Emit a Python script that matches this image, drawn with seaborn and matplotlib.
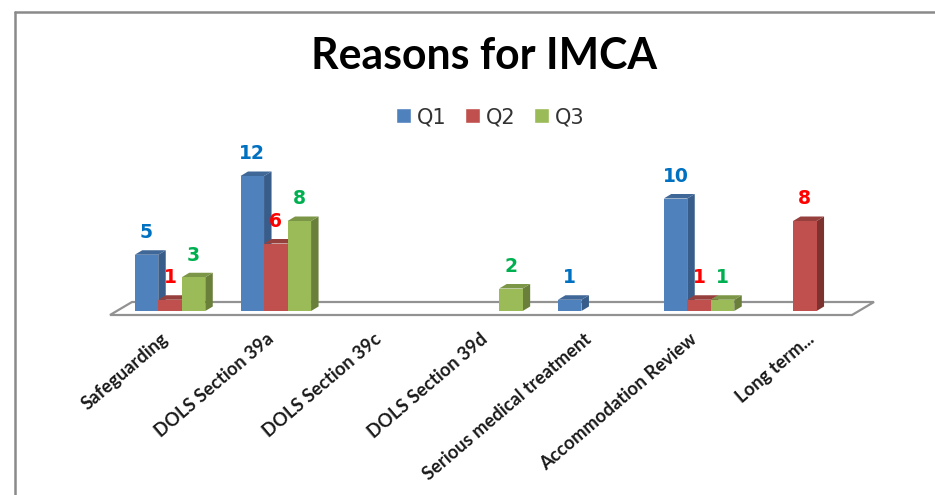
import matplotlib
matplotlib.use("Agg")
import matplotlib.pyplot as plt
from matplotlib.lines import Line2D
from matplotlib.patches import Polygon
from matplotlib.transforms import ScaledTranslation
import pandas as pd
import seaborn as sns

categories = ["Safeguarding", "DOLS Section 39a", "DOLS Section 39c", "DOLS Section 39d",
              "Serious medical treatment", "Accommodation Review", "Long term..."]
q1 = [5, 12, 0, 0, 1, 10, 0]
q2 = [1, 6, 0, 0, 0, 1, 8]
q3 = [3, 8, 0, 2, 0, 1, 0]
quarters = ["Q1", "Q2", "Q3"]

W, H = 935, 495
FACE = ["#4F81BD", "#C0504D", "#9BBB59"]
SIDE = ["#385D8A", "#7D3230", "#6A7F3A"]
TOP = ["#3F6797", "#96403D", "#7C9647"]
LABEL = ["#0070C0", "#FF0000", "#00B050"]

# Pixel layout of the plotting box
LEFT, RIGHT, BASE, CEIL = 110, 852, 311, 140
CAT_PX, UNIT_PX = 105.8, 11.25
DEPTH_X, DEPTH_Y = 7.5 / CAT_PX, 4.5 / UNIT_PX

sns.set_theme(style="white")
plt.rcParams["font.family"] = ["Lato", "DejaVu Sans"]

df = pd.DataFrame({
    "reason": categories * 3,
    "quarter": [q for q in quarters for _ in categories],
    "count": q1 + q2 + q3,
})

fig = plt.figure(figsize=(W / 100, H / 100), dpi=100, facecolor="white")
ax = fig.add_axes([LEFT / W, 1 - BASE / H, (RIGHT - LEFT) / W, (BASE - CEIL) / H])
sns.barplot(data=df, x="reason", y="count", hue="quarter", palette=FACE, hue_order=quarters,
            width=2 / 3, gap=0, saturation=1, errorbar=None, ax=ax, legend=True)
ax.set_xlim((LEFT - 170) / CAT_PX, (RIGHT - 170) / CAT_PX)
ax.set_ylim(0, (BASE - CEIL) / UNIT_PX)

# Floor of the pseudo-3D plot area
y_front, y_back = -4 / UNIT_PX, 9 / UNIT_PX
x0, x1 = ax.get_xlim()
shift = 22 / CAT_PX
ax.add_patch(Polygon([(x0, y_front), (x1, y_front), (x1 + shift, y_back), (x0 + shift, y_back)],
                     closed=True, facecolor="white", edgecolor="#929292", lw=1.6,
                     zorder=0.5, clip_on=False))

# Extrude each bar with a shaded side and top, then print its value above it
for k, container in enumerate(ax.containers):
    for bar, value in zip(container.patches, df.loc[df.quarter == quarters[k], "count"]):
        if value == 0:
            bar.set_visible(False)
            continue
        x, w, h = bar.get_x(), bar.get_width(), bar.get_height()
        z = 2 + k
        bar.set_zorder(z + 0.2)
        bar.set_linewidth(0)
        ax.add_patch(Polygon([(x + w, 0), (x + w + DEPTH_X, DEPTH_Y),
                              (x + w + DEPTH_X, h + DEPTH_Y), (x + w, h)],
                             closed=True, facecolor=SIDE[k], lw=0, zorder=z, clip_on=False))
        ax.add_patch(Polygon([(x, h), (x + w, h), (x + w + DEPTH_X, h + DEPTH_Y), (x + DEPTH_X, h + DEPTH_Y)],
                             closed=True, facecolor=TOP[k], lw=0, zorder=z, clip_on=False))
        ax.annotate(str(value), (x + w / 2, h), xytext=(0, 16), textcoords="offset points",
                    ha="center", va="center", color=LABEL[k], fontsize=13.5, fontweight="bold",
                    family="DejaVu Sans", zorder=10, annotation_clip=False)

for side in ax.spines.values():
    side.set_visible(False)
ax.set_xlabel("")
ax.set_ylabel("")
ax.set_yticks([])
ax.tick_params(axis="x", length=0, pad=14)
ax.set_xticks(range(len(categories)))
ax.set_xticklabels(categories, rotation=40.5, ha="right", rotation_mode="anchor",
                   fontsize=13.2, fontweight="bold", color="#1A1A1A")
# Rotated labels end just left of their tick; the truncated last one sits a little further right
nudges_px = [-10, -10, -8, -8, -10, -10, 2]
for tick_label, px in zip(ax.get_xticklabels(), nudges_px):
    nudge = ScaledTranslation(px / 100, 0, fig.dpi_scale_trans)
    tick_label.set_transform(tick_label.get_transform() + nudge)

handles, labels = ax.get_legend_handles_labels()
ax.get_legend().remove()
fig.legend(handles, labels, loc="center", bbox_to_anchor=(490.5 / W, 1 - 117 / H), ncols=3,
           frameon=False, handlelength=0.72, handleheight=0.72, handletextpad=0.3,
           columnspacing=0.87, labelcolor="#333333", prop={"family": "DejaVu Sans", "size": 15})

fig.text(484.5 / W, 1 - 56 / H, "Reasons for IMCA", ha="center", va="center",
         fontsize=30.8, fontweight="bold", color="black")

# Outer frame along the top and left edges
frame = dict(color="#8A8A8A", lw=1.8, transform=fig.transFigure)
fig.add_artist(Line2D([15 / W, 1], [1 - 12 / H, 1 - 12 / H], **frame))
fig.add_artist(Line2D([15 / W, 15 / W], [1 - 12 / H, 0], **frame))

fig.savefig("out.png", dpi=100, facecolor="white")
